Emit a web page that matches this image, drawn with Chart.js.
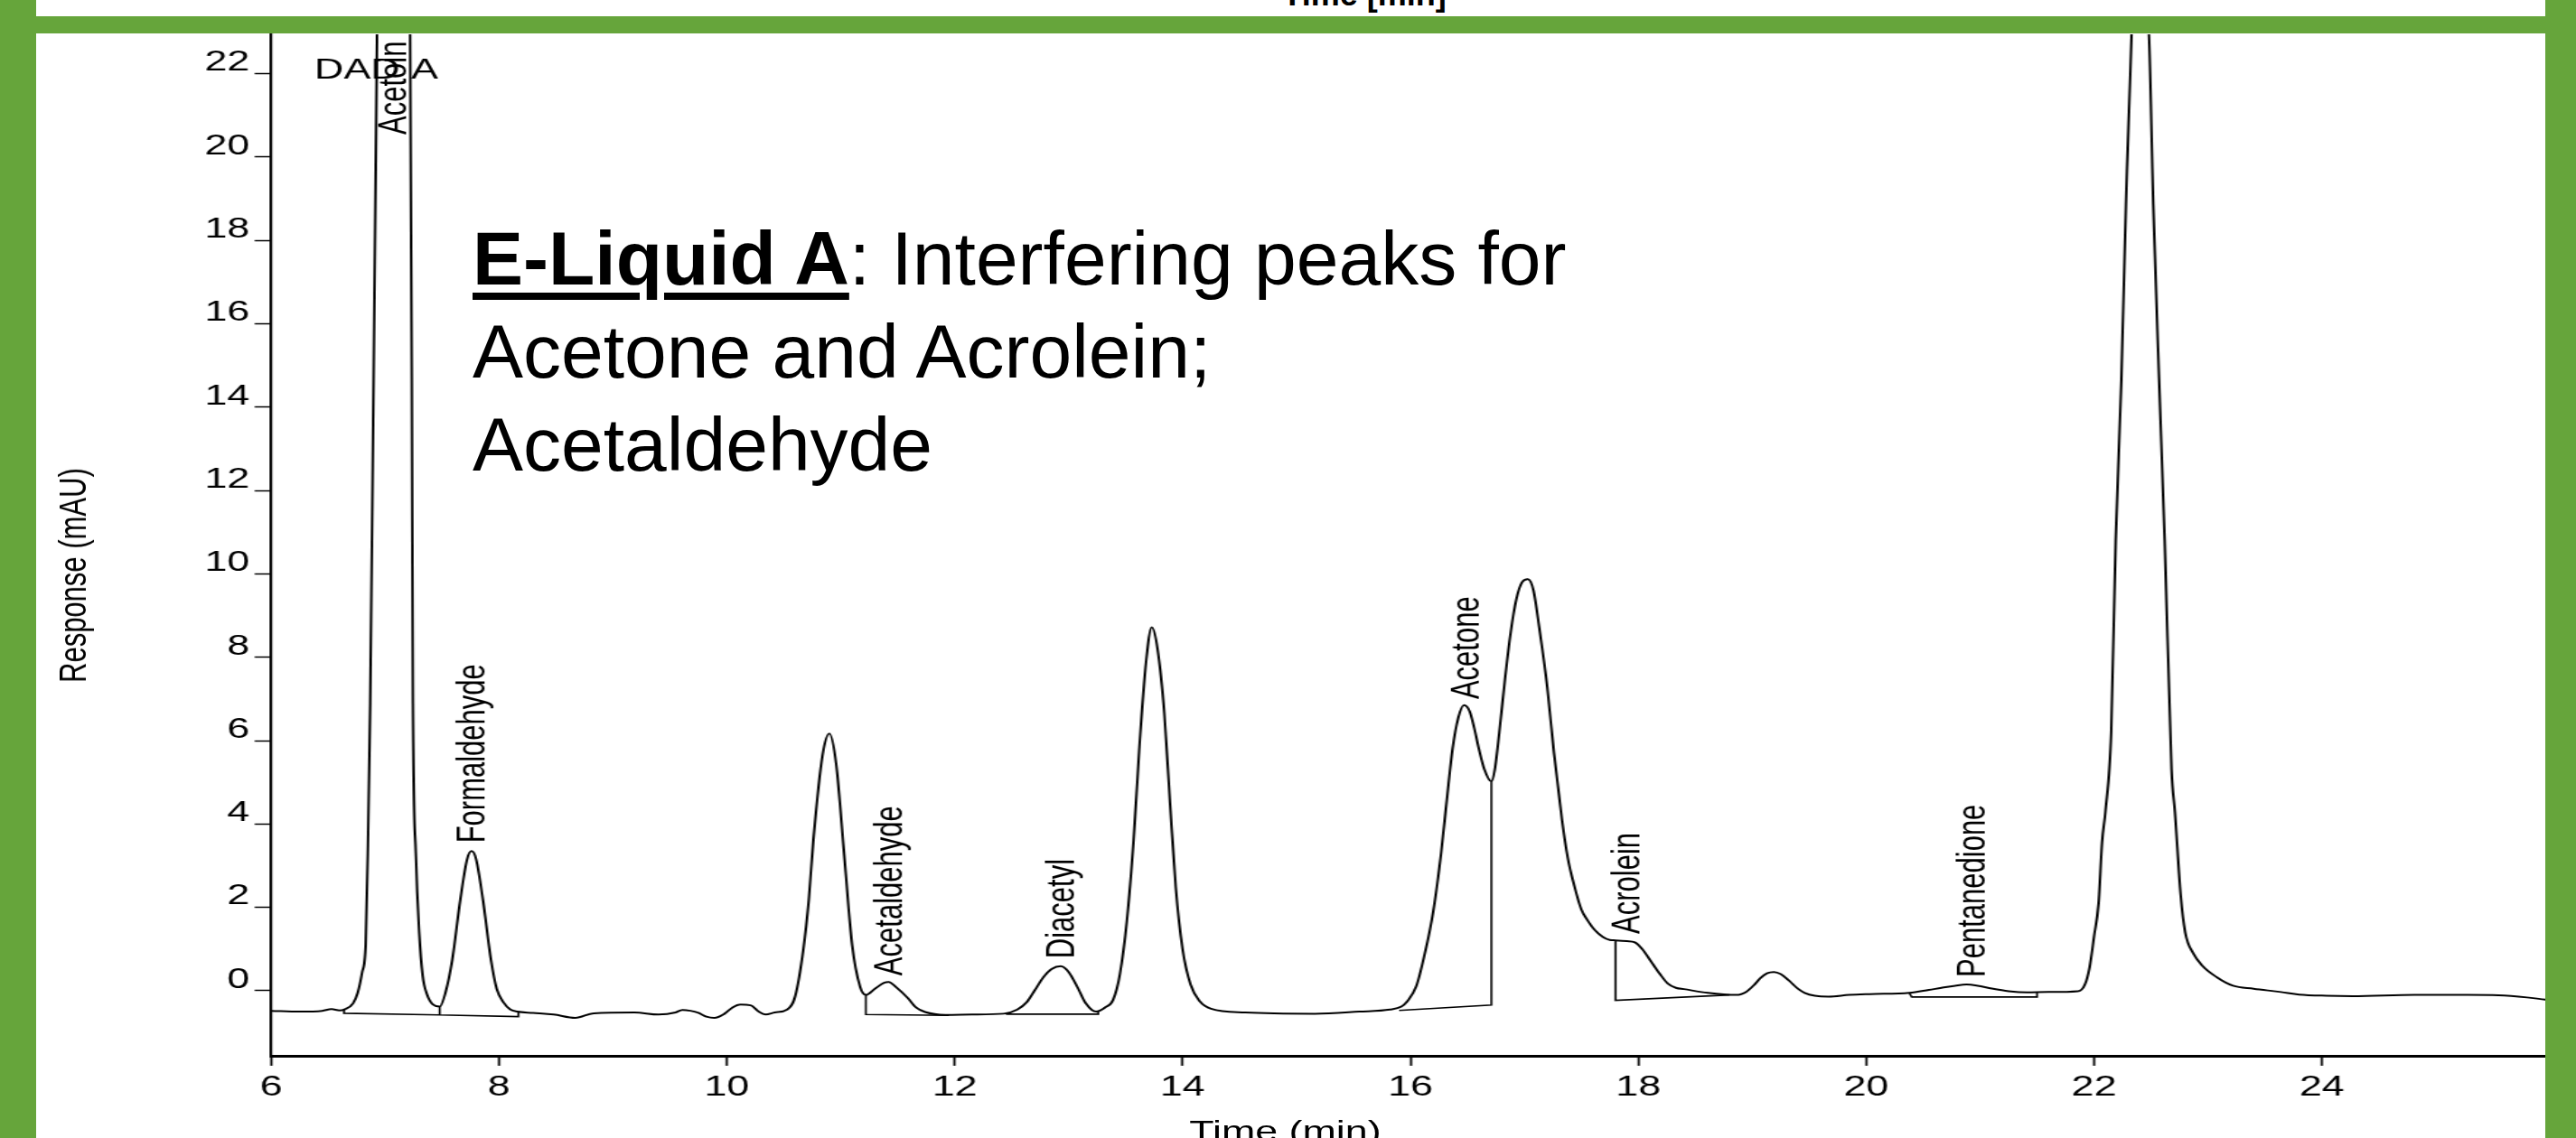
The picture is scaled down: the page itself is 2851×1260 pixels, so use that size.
<!DOCTYPE html>
<html>
<head>
<meta charset="utf-8">
<script src="https://cdn.jsdelivr.net/npm/chart.js@4.4.1/dist/chart.umd.min.js"></script>
<style>
  html, body { margin: 0; padding: 0; background: #fff; }
  body { width: 2851px; height: 1260px; overflow: hidden; position: relative; font-family: "Liberation Sans", Arial, sans-serif; }
  .green { position: absolute; background: #66a53b; z-index: 5; }
  #stage { position: absolute; left: 0; top: 37px; width: 2036px; height: 1232px; transform-origin: 0 0; transform: scaleX(1.4); }
  #wrap { position: relative; width: 2036px; height: 1232px; }
  #ytitle { position: absolute; left: 58px; top: 600px; font-size: 31px; white-space: nowrap; transform: translate(-50%, -50%) rotate(-90deg); }
  #xtitle { position: absolute; left: 1016px; top: 1199px; font-size: 32px; line-height: 32px; white-space: nowrap; transform: translateX(-50%); }
  #prev { position: absolute; left: 1510px; top: -24px; font-size: 36px; line-height: 36px; font-weight: bold; transform: translateX(-50%); white-space: nowrap; }
  #note { position: absolute; left: 523px; top: 235px; font-size: 84px; line-height: 103px; white-space: nowrap; z-index: 4; }
  #note b { text-decoration: underline; text-decoration-thickness: 8px; text-underline-offset: 9px; }
</style>
</head>
<body>
<div id="prev">Time [min]</div>
<div id="stage">
  <div id="wrap"><canvas id="chromChart"></canvas></div>
  <div id="ytitle">Response (mAU)</div>
  <div id="xtitle">Time (min)</div>
</div>
<div id="note"><b>E-Liquid A</b>: Interfering peaks for<br>Acetone and Acrolein;<br>Acetaldehyde</div>
<div class="green" style="left:0;top:0;width:40px;height:1260px"></div>
<div class="green" style="left:2817px;top:0;width:34px;height:1260px"></div>
<div class="green" style="left:40px;top:18px;width:2777px;height:19px"></div>
<script>
// detector trace (time in min, response in mAU)
const traceTime = [
  6.00, 6.25, 6.45, 6.53, 6.60, 6.65, 6.72, 6.76, 6.80, 6.83, 6.85, 6.87, 6.90, 6.93, 6.96, 7.08, 7.20, 7.22, 7.235, 7.245,
  7.27, 7.30, 7.33, 7.37, 7.42, 7.48, 7.53, 7.59, 7.66, 7.72, 7.76, 7.80, 7.86, 7.93, 7.98, 8.04, 8.10, 8.16, 8.30, 8.48,
  8.67, 8.83, 9.19, 9.40, 9.55, 9.61, 9.68, 9.75, 9.82, 9.89, 9.98, 10.05, 10.12, 10.21, 10.28, 10.34, 10.42, 10.53, 10.60, 10.67,
  10.72, 10.76, 10.84, 10.90, 10.96, 11.03, 11.10, 11.17, 11.22, 11.30, 11.38, 11.42, 11.48, 11.59, 11.66, 11.74, 11.92, 12.15, 12.43, 12.55,
  12.63, 12.70, 12.78, 12.85, 12.93, 13.00, 13.08, 13.15, 13.24, 13.32, 13.39, 13.45, 13.51, 13.57, 13.62, 13.68, 13.73, 13.78, 13.84, 13.89,
  13.94, 14.00, 14.07, 14.15, 14.25, 14.55, 15.16, 15.55, 15.82, 15.92, 15.97, 16.05, 16.12, 16.20, 16.27, 16.32, 16.37, 16.42, 16.47, 16.52,
  16.56, 16.60, 16.65, 16.71, 16.74, 16.78, 16.83, 16.88, 16.93, 16.98, 17.03, 17.08, 17.13, 17.20, 17.26, 17.33, 17.38, 17.44, 17.50, 17.55,
  17.62, 17.69, 17.75, 17.80, 17.90, 17.97, 18.04, 18.11, 18.19, 18.26, 18.33, 18.40, 18.61, 18.86, 18.95, 19.02, 19.07, 19.13, 19.19, 19.25,
  19.32, 19.40, 19.46, 19.55, 19.67, 19.85, 20.03, 20.38, 20.55, 20.66, 20.78, 20.88, 20.98, 21.09, 21.25, 21.41, 21.60, 21.86, 21.92, 21.96,
  22.00, 22.04, 22.07, 22.10, 22.15, 22.19, 22.24, 22.28, 22.33, 22.40, 22.48, 22.52, 22.57, 22.62, 22.68, 22.71, 22.76, 22.80, 22.87, 22.95,
  23.08, 23.22, 23.40, 23.64, 23.80, 24.04, 24.27, 24.81, 25.28, 25.55, 25.80, 25.96, 26.00
];
const traceResponse = [
  -0.48, -0.50, -0.48, -0.44, -0.47, -0.44, -0.30, -0.05, 0.45, 1.10, 3.5, 6.9, 14.7, 23.0, 30, 45, 30, 23.0, 14.7, 6.9,
  3.3, 1.4, 0.37, -0.10, -0.33, -0.38, -0.05, 0.74, 2.17, 3.15, 3.35, 3.15, 2.17, 0.74, 0.05, -0.28, -0.45, -0.50, -0.53, -0.57,
  -0.65, -0.54, -0.52, -0.57, -0.52, -0.46, -0.48, -0.53, -0.62, -0.65, -0.55, -0.40, -0.33, -0.35, -0.50, -0.57, -0.52, -0.45, -0.13, 0.96,
  2.2, 3.63, 5.65, 6.17, 5.43, 3.26, 1.09, 0.09, -0.10, 0.05, 0.19, 0.21, 0.10, -0.18, -0.40, -0.51, -0.58, -0.57, -0.55, -0.45,
  -0.28, 0.00, 0.33, 0.52, 0.59, 0.45, 0.07, -0.30, -0.50, -0.40, -0.22, 0.40, 1.65, 3.6, 5.8, 7.9, 8.72, 8.2, 6.65, 4.5,
  2.48, 1.0, 0.15, -0.25, -0.43, -0.52, -0.55, -0.50, -0.45, -0.38, -0.26, 0.10, 0.82, 1.9, 3.32, 4.6, 5.81, 6.55, 6.85, 6.7,
  6.3, 5.81, 5.3, 5.02, 5.3, 6.2, 7.48, 8.6, 9.4, 9.8, 9.87, 9.6, 8.72, 7.3, 5.7, 4.1, 3.2, 2.5, 1.95, 1.71,
  1.45, 1.29, 1.22, 1.21, 1.19, 1.16, 0.98, 0.71, 0.40, 0.17, 0.07, 0.04, -0.05, -0.10, -0.02, 0.15, 0.30, 0.42, 0.45, 0.40,
  0.25, 0.05, -0.05, -0.12, -0.14, -0.10, -0.08, -0.05, 0.02, 0.07, 0.12, 0.15, 0.12, 0.06, -0.01, -0.04, -0.03, -0.01, 0.15, 0.55,
  1.3, 2.11, 3.56, 4.3, 6.2, 10.8, 14.7, 18.85, 23.0, 24.3, 23.0, 18.85, 14.7, 10.8, 5.31, 4.28, 2.3, 1.4, 0.9, 0.6,
  0.32, 0.12, 0.05, -0.03, -0.09, -0.12, -0.13, -0.10, -0.10, -0.11, -0.16, -0.21, -0.22
];

// integration baselines and drop lines (null = break between segments)
const baselineTime = [
  6.64, 6.64, 7.48, 7.48, null, 7.48, 8.17, 8.17, null,
  11.22, 11.22, 11.95, null,
  12.45, 13.26, 13.26, null,
  15.90, 16.71, 16.71, null,
  17.80, 17.80, 18.80, null,
  20.38, 20.40, 21.50, 21.50
];
const baselineResponse = [
  -0.44, -0.54, -0.58, -0.38, null, -0.58, -0.62, -0.52, null,
  -0.10, -0.57, -0.59, null,
  -0.56, -0.56, -0.50, null,
  -0.47, -0.34, 5.02, null,
  1.21, -0.23, -0.10, null,
  -0.06, -0.15, -0.15, -0.04
];

const peakNames = ['Acetoin', 'Formaldehyde', 'Acetaldehyde', 'Diacetyl', 'Acetone', 'Acrolein', 'Pentanedione'];
const peakTimes = [7.09, 7.78, 11.44, 12.95, 16.50, 17.91, 20.95];
const peakLevels = [20.34, 3.35, 0.17, 0.58, 6.8, 1.17, 0.13];

const xTicks = [6, 8, 10, 12, 14, 16, 18, 20, 22, 24];
const yTicks = [0, 2, 4, 6, 8, 10, 12, 14, 16, 18, 20, 22];

const FONT = '"Liberation Sans", Arial, sans-serif';

// rotated peak names + detector tag
const peakLabels = {
  id: 'peakLabels',
  afterDatasetsDraw(chart) {
    const { ctx, scales: { x, y } } = chart;
    ctx.save();
    ctx.fillStyle = '#000';
    ctx.font = '31px ' + FONT;
    ctx.textAlign = 'left';
    ctx.textBaseline = 'middle';
    peakNames.forEach((name, i) => {
      ctx.save();
      ctx.translate(x.getPixelForValue(peakTimes[i]), y.getPixelForValue(peakLevels[i]) - 9);
      ctx.rotate(-Math.PI / 2);
      ctx.fillText(name, 0, 0);
      ctx.restore();
    });
    ctx.font = '32px ' + FONT;
    ctx.fillText('DAD A', x.getPixelForValue(6.38), y.getPixelForValue(22.07));
    ctx.restore();
  }
};

const ctx = document.getElementById('chromChart').getContext('2d');
const chromChart = new Chart(ctx, {
  type: 'line',
  data: {
    datasets: [{
      label: 'DAD A',
      data: traceTime.map((t, i) => ({ x: t, y: traceResponse[i] })),
      borderColor: '#000',
      borderWidth: 2,
      pointRadius: 0,
      cubicInterpolationMode: 'monotone',
      fill: false
    }, {
      label: 'baseline',
      data: baselineTime.map((t, i) => ({ x: t, y: baselineResponse[i] })),
      borderColor: '#000',
      borderWidth: 1.6,
      pointRadius: 0,
      tension: 0,
      spanGaps: false,
      fill: false
    }]
  },
  options: {
    responsive: true,
    maintainAspectRatio: false,
    animation: false,
    layout: { padding: { left: 0, right: 20.3, top: 0, bottom: 0 } },
    plugins: { legend: { display: false }, tooltip: { enabled: false } },
    scales: {
      x: {
        type: 'linear',
        min: 6,
        max: 26,
        afterBuildTicks: (scale) => { scale.ticks = xTicks.map(v => ({ value: v })); },
        afterFit: (scale) => { scale.height = 100; scale.paddingLeft = 0; scale.paddingRight = 0; },
        grid: { drawOnChartArea: false, drawTicks: true, tickLength: 11, tickWidth: 1.8, tickColor: '#000' },
        border: { display: true, color: '#000', width: 3 },
        ticks: {
          autoSkip: false, maxRotation: 0, padding: 5, color: '#000',
          font: { family: FONT, size: 32 },
          callback: (v) => String(v)
        }
      },
      y: {
        type: 'linear',
        min: -1.56,
        max: 22.94,
        afterBuildTicks: (scale) => { scale.ticks = yTicks.map(v => ({ value: v })); },
        afterFit: (scale) => { scale.width = 214.3; scale.paddingTop = 0; scale.paddingBottom = 0; },
        grid: { drawOnChartArea: false, drawTicks: true, tickLength: 13, tickWidth: 1.5, tickColor: '#000' },
        border: { display: true, color: '#000', width: 2.2 },
        ticks: {
          autoSkip: false, padding: 4, color: '#000', labelOffset: -12,
          font: { family: FONT, size: 32 },
          callback: (v) => String(v)
        }
      }
    }
  },
  plugins: [peakLabels]
});
</script>
</body>
</html>
